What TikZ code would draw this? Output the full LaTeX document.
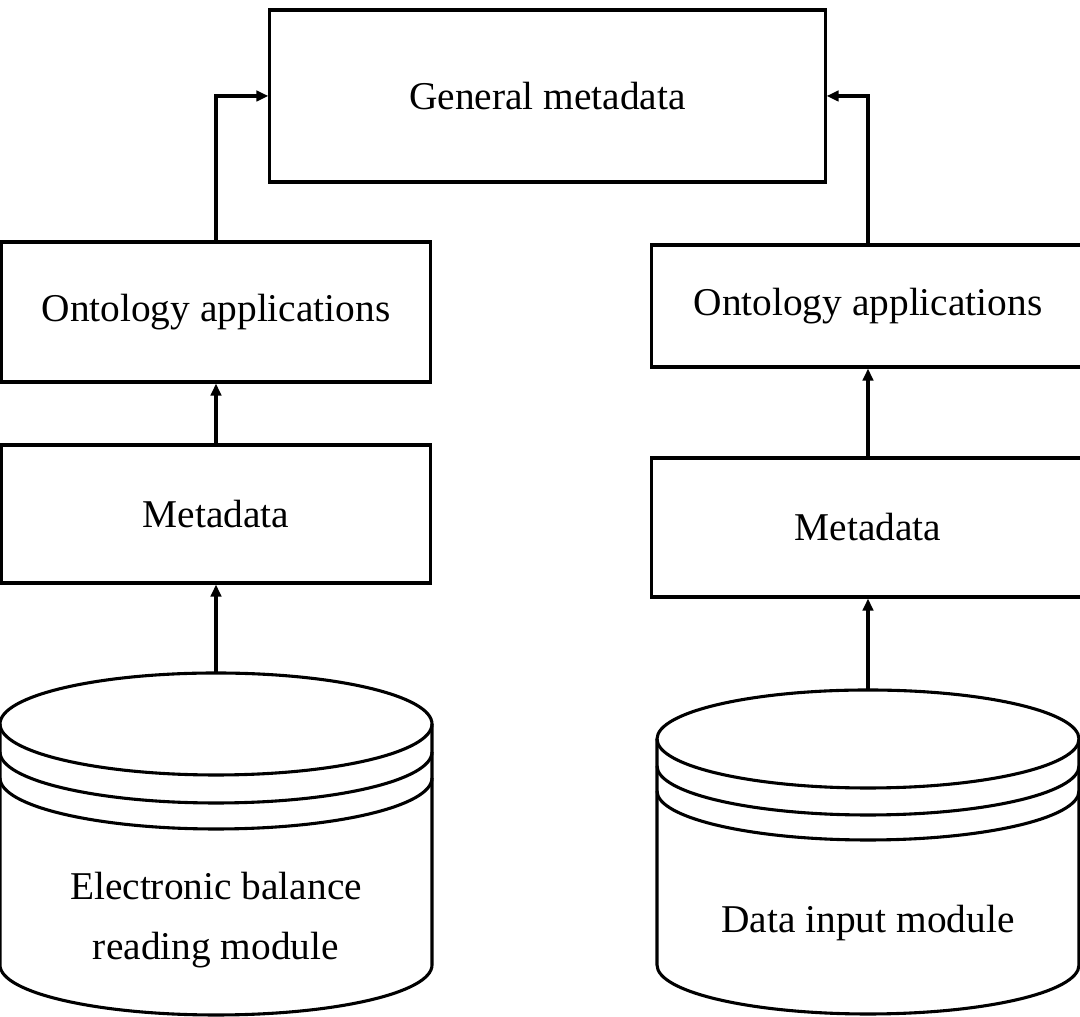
\documentclass[tikz,border=0pt]{standalone}
\usepackage{fontspec}
\setmainfont{Liberation Serif}
\usetikzlibrary{arrows.meta}

\tikzset{
	box/.style={draw, line width=2.2pt, inner sep=0pt, align=center},
	link/.style={line width=2.2pt, -{Triangle[length=0.3cm, width=0.26cm]}},
	drum/.style={line width=2.2pt}
}

\begin{document}
\begin{tikzpicture}[x=0.025cm, y=0.025cm, font=\fontsize{28}{42.5}\selectfont]
			%%%%% START %%%%%
			\useasboundingbox (0, 0) rectangle (1080, 1017);
			
			\node[box, minimum width=13.875cm, minimum height=4.3cm] (gen) at (547.5, 921) {General metadata};
			
			\node[box, minimum width=10.7cm, minimum height=3.5cm] (lonto) at (216, 705) {Ontology applications};
			\node[box, minimum width=10.7cm, minimum height=3.45cm] (lmeta) at (216, 503) {Metadata};
			
			\node[box, minimum width=10.8cm, minimum height=3.05cm] (ronto) at (868, 711) {Ontology applications};
			\node[box, minimum width=10.8cm, minimum height=3.475cm] (rmeta) at (868, 489.5) {Metadata};
			
			% left drum
			\draw[drum] (0, 293) -- (0, 52) arc (180:360:216 and 50) -- (432, 293);
			\draw[drum] (216, 293) ellipse (216 and 51);
			\draw[drum] (0, 265) arc (180:360:216 and 51);
			\draw[drum] (0, 239) arc (180:360:216 and 51);
			\coordinate (lsrc) at (216, 344);
			\node[align=center] (lsrctext) at (216, 97) {Electronic balance\\reading module};
			
			% right drum
			\draw[drum] (657, 278) -- (657, 52) arc (180:360:211 and 49) -- (1079, 278);
			\draw[drum] (868, 278) ellipse (211 and 49);
			\draw[drum] (657, 251) arc (180:360:211 and 49);
			\draw[drum] (657, 226) arc (180:360:211 and 49);
			\coordinate (rsrc) at (868, 327);
			\node (rsrctext) at (868, 94) {Data input module};
			
			\draw[link] (lsrc) -- (lmeta.south);
			\draw[link] (lmeta.north) -- (lonto.south);
			\draw[link] (lonto.north) |- (gen.west);
			
			\draw[link] (rsrc) -- (rmeta.south);
			\draw[link] (rmeta.north) -- (ronto.south);
			\draw[link] (ronto.north) |- (gen.east);
			
			%%%%% END %%%%%
		\end{tikzpicture}
\end{document}
